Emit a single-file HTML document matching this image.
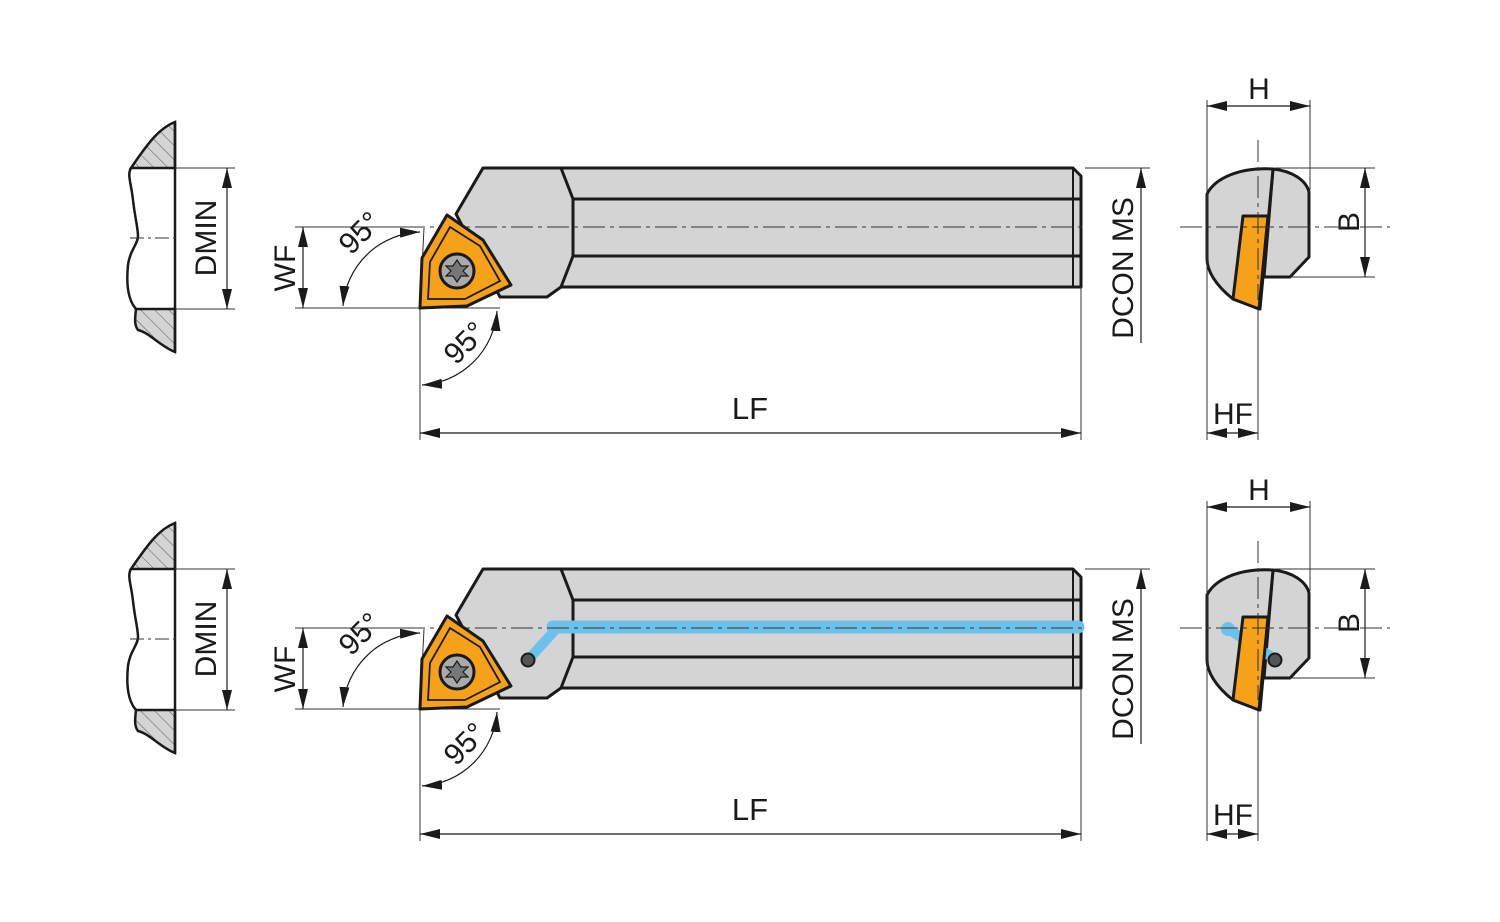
<!DOCTYPE html>
<html><head><meta charset="utf-8"><style>
html,body{margin:0;padding:0;background:#fff;}
svg{display:block}
text{font-family:"Liberation Sans",Arial,sans-serif;fill:#1a1a1a}
</style></head><body>
<svg width="1500" height="922" viewBox="0 0 1500 922" xmlns="http://www.w3.org/2000/svg">
<defs>
<marker id="ar" viewBox="0 0 20 10" refX="20" refY="5" markerWidth="20" markerHeight="10" markerUnits="userSpaceOnUse" orient="auto-start-reverse">
<path d="M0,0 L20,5 L0,10 z" fill="#1a1a1a"/></marker>
<pattern id="hatch" width="10" height="10" patternUnits="userSpaceOnUse" patternTransform="rotate(-45)">
<rect width="10" height="10" fill="#d4d4d4"/><line x1="0" y1="0" x2="0" y2="10" stroke="#555" stroke-width="1"/></pattern>
<g id="base">
 <path d="M131,168 C150,140 160,128 175,122 L175,168 Z" fill="url(#hatch)" stroke="#1a1a1a" stroke-width="2.5"/>
 <path d="M136,309 L175,309 L175,352 C160,346 150,333 138,330 C134,325 135,318 136,309 Z" fill="url(#hatch)" stroke="#1a1a1a" stroke-width="2.5"/>
 <path d="M131,168 C127,175 131,182 133,200 C135,218 138,228 138,236 C138,244 130,250 128,265 C126,285 128,300 136,309" fill="none" stroke="#1a1a1a" stroke-width="2.5"/>
 <line x1="175" y1="122" x2="175" y2="352" stroke="#1a1a1a" stroke-width="2.5"/>
 <line x1="130" y1="238" x2="180" y2="238" stroke="#333" stroke-width="1" stroke-dasharray="14,4,3,4"/>
 <line x1="175" y1="168" x2="235" y2="168" stroke="#333" stroke-width="1"/>
 <line x1="175" y1="309" x2="235" y2="309" stroke="#333" stroke-width="1"/>
 <line x1="227" y1="168" x2="227" y2="309" stroke="#1a1a1a" stroke-width="1.2" marker-start="url(#ar)" marker-end="url(#ar)"/>
 <text transform="translate(216,238) rotate(-90)" font-size="30" text-anchor="middle">DMIN</text>
 <path d="M483,168 L1073,168 L1081,176 L1081,287 L573,287 L561,287 L547,297 L500,297 L456,214 Z" fill="#d4d4d4" stroke="#1a1a1a" stroke-width="3" stroke-linejoin="round"/>
 <path d="M561,168 L573,199 L573,256 L561,287" fill="none" stroke="#1a1a1a" stroke-width="3"/>
 <line x1="573" y1="199" x2="1081" y2="199" stroke="#1a1a1a" stroke-width="3"/>
 <line x1="573" y1="256" x2="1081" y2="256" stroke="#1a1a1a" stroke-width="3"/>
 <line x1="1073" y1="168" x2="1073" y2="287" stroke="#1a1a1a" stroke-width="2"/>
 <line x1="295" y1="227" x2="1085" y2="227" stroke="#333" stroke-width="1" stroke-dasharray="22,5,4,5"/>
 <line x1="295" y1="308" x2="500" y2="308" stroke="#333" stroke-width="1"/>
 <line x1="295" y1="227" x2="424" y2="227" stroke="#333" stroke-width="1"/>
 <line x1="303" y1="227" x2="303" y2="308" stroke="#1a1a1a" stroke-width="1.2" marker-start="url(#ar)" marker-end="url(#ar)"/>
 <text transform="translate(295,268) rotate(-90)" font-size="30" text-anchor="middle">WF</text>
 <line x1="424" y1="228" x2="420" y2="308" stroke="#333" stroke-width="1"/>
 <path d="M343,306 A80,80 0 0 1 420,232" fill="none" stroke="#1a1a1a" stroke-width="1.2" marker-start="url(#ar)" marker-end="url(#ar)"/>
 <text transform="translate(367,240) rotate(-45)" font-size="30" text-anchor="middle">95°</text>
 <line x1="420" y1="308" x2="420" y2="440" stroke="#333" stroke-width="1"/>
 <path d="M422,385 A80,80 0 0 0 497,311" fill="none" stroke="#1a1a1a" stroke-width="1.2" marker-start="url(#ar)" marker-end="url(#ar)"/>
 <text transform="translate(472,350) rotate(-45)" font-size="30" text-anchor="middle">95°</text>
 <line x1="1081" y1="287" x2="1081" y2="440" stroke="#333" stroke-width="1"/>
 <line x1="420" y1="433" x2="1081" y2="433" stroke="#1a1a1a" stroke-width="1.2" marker-start="url(#ar)" marker-end="url(#ar)"/>
 <text x="750" y="419" font-size="31" text-anchor="middle">LF</text>
 <line x1="1085" y1="168" x2="1150" y2="168" stroke="#333" stroke-width="1"/>
 <line x1="1141" y1="168" x2="1141" y2="343" stroke="#1a1a1a" stroke-width="1.2" marker-start="url(#ar)"/>
 <text transform="translate(1133,268) rotate(-90)" font-size="30" text-anchor="middle">DCON MS</text>
 <path d="M1273,169 C1292,171 1306,180 1309,192 L1309,257 L1290,277 L1264,277 Z" fill="#d4d4d4" stroke="#1a1a1a" stroke-width="3" stroke-linejoin="round"/>
 <path d="M1273,169 L1260,309 L1233,299 C1215,285 1207,270 1207,259 L1207,194 C1215,178 1240,167 1273,169 Z" fill="#d4d4d4" stroke="#1a1a1a" stroke-width="3" stroke-linejoin="round"/>
 <line x1="1207" y1="100" x2="1207" y2="440" stroke="#333" stroke-width="1"/>
 <line x1="1310" y1="100" x2="1310" y2="190" stroke="#333" stroke-width="1"/>
 <line x1="1207" y1="106" x2="1310" y2="106" stroke="#1a1a1a" stroke-width="1.2" marker-start="url(#ar)" marker-end="url(#ar)"/>
 <text x="1259" y="99" font-size="30" text-anchor="middle">H</text>
 <line x1="1275" y1="168" x2="1375" y2="168" stroke="#333" stroke-width="1"/>
 <line x1="1290" y1="277" x2="1375" y2="277" stroke="#333" stroke-width="1"/>
 <line x1="1365" y1="168" x2="1365" y2="277" stroke="#1a1a1a" stroke-width="1.2" marker-start="url(#ar)" marker-end="url(#ar)"/>
 <text transform="translate(1359,222) rotate(-90)" font-size="30" text-anchor="middle">B</text>
 <line x1="1258" y1="300" x2="1258" y2="440" stroke="#333" stroke-width="1"/>
 <line x1="1207" y1="433" x2="1258" y2="433" stroke="#1a1a1a" stroke-width="1.2" marker-start="url(#ar)" marker-end="url(#ar)"/>
 <text x="1233" y="424" font-size="30" text-anchor="middle">HF</text>
</g>
<g id="ins">
 <path d="M447,215 L483,240 L511,285 L467,306 L420,308 L422,258 Z" fill="#f5a21a" stroke="#1a1a1a" stroke-width="3" stroke-linejoin="round"/>
 <path d="M450,227 L480,246 L500,281 L465,299 L428,299 L430,262 Z" fill="none" stroke="#1a1a1a" stroke-width="1.8"/>
 <circle cx="457" cy="271" r="17" fill="#aaa" stroke="#1a1a1a" stroke-width="3"/>
 <path d="M457,260 L461,266 L468,266 L463,271 L468,276 L461,276 L457,282 L453,276 L446,276 L451,271 L446,266 L453,266 Z" fill="#777" stroke="#1a1a1a" stroke-width="1.2"/>
 <path d="M1243,216 L1268,216 L1259,309 L1233,299 Z" fill="#f5a21a" stroke="#1a1a1a" stroke-width="3" stroke-linejoin="round"/>
</g>
</defs>
<use href="#base"/>
<use href="#ins"/>
<g transform="translate(0,401)">
 <use href="#base"/>
 <path d="M553,226 L1078,226" stroke="#6cc1ea" stroke-width="13" stroke-linecap="round"/>
 <path d="M556,228 L528,259" stroke="#6cc1ea" stroke-width="10" stroke-linecap="round"/>
 <circle cx="528" cy="259" r="6.5" fill="#555" stroke="#1a1a1a" stroke-width="2"/>
 <line x1="295" y1="227" x2="1085" y2="227" stroke="#333" stroke-width="1" stroke-dasharray="22,5,4,5"/>
 <path d="M1228,228 L1275,258" stroke="#6cc1ea" stroke-width="10" stroke-linecap="round"/>
 <circle cx="1228" cy="228" r="7" fill="#6cc1ea"/>
 <circle cx="1275" cy="259" r="6.5" fill="#555" stroke="#1a1a1a" stroke-width="2"/>
 <use href="#ins"/>
</g>
<g stroke="#333" stroke-width="1" stroke-dasharray="22,5,4,5">
 <line x1="1180" y1="227" x2="1390" y2="227"/>
 <line x1="1258" y1="140" x2="1258" y2="300"/>
 <line x1="1180" y1="628" x2="1390" y2="628"/>
 <line x1="1258" y1="541" x2="1258" y2="700"/>
</g>
</svg>
</body></html>
